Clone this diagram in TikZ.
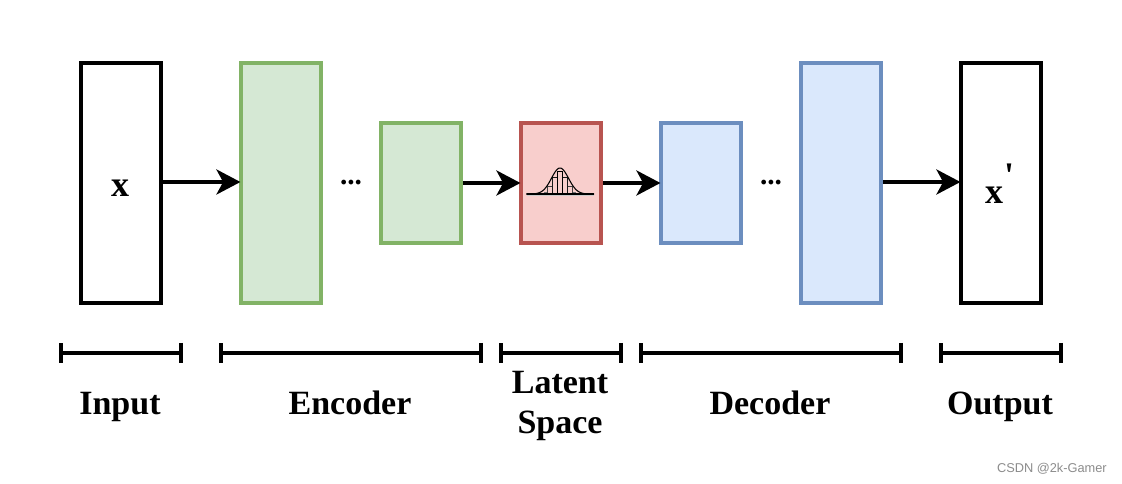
\documentclass[tikz,border=0pt]{standalone}
\usepackage{fontspec}
\setmainfont{Liberation Serif}
\newfontfamily\primefont{Liberation Serif}
\newfontfamily\wmfont{Liberation Sans}
\usetikzlibrary{arrows.meta}
\definecolor{gfill}{HTML}{D5E8D4}
\definecolor{gline}{HTML}{82B366}
\definecolor{rfill}{HTML}{F8CECC}
\definecolor{rline}{HTML}{B85450}
\definecolor{bfill}{HTML}{DAE8FC}
\definecolor{bline}{HTML}{6C8EBF}
\tikzset{
  x=0.75pt,y=-0.75pt,
  layer/.style={draw,line width=3pt,inner sep=0pt,outer sep=0pt,minimum width=60pt},
  tallbox/.style={layer,minimum height=180pt},
  shortbox/.style={layer,minimum height=90pt},
  plainbox/.style={fill=white,draw=black},
  encbox/.style={fill=gfill,draw=gline},
  latbox/.style={fill=rfill,draw=rline},
  decbox/.style={fill=bfill,draw=bline},
  flowline/.style={line width=3pt,-{Stealth[length=18pt,width=18.75pt,inset=5pt]},shorten >=0.4pt,shorten <=1.5pt},
  spanline/.style={line width=3pt,{Bar[width=15pt,line width=3pt]}-{Bar[width=15pt,line width=3pt]},shorten <=-1.5pt,shorten >=-1.5pt},
  caption/.style={font=\bfseries\fontsize{25.5pt}{30pt}\selectfont,align=center,inner sep=0pt},
  symbol/.style={font=\bfseries\fontsize{27pt}{30pt}\selectfont,inner sep=0pt},
  gapdots/.style={font=\bfseries\fontsize{22pt}{24pt}\selectfont,inner sep=0pt},
  histbar/.style={line width=0.6pt,black!85},
}
\begin{document}
\begin{tikzpicture}
\useasboundingbox (0,0) rectangle (1122,484);
\fill[white] (0,0) rectangle (1122,484);
\node[tallbox,plainbox] (input) at (121,183) {};
\node[tallbox,encbox] (enc1) at (281,183) {};
\node[shortbox,encbox] (enc2) at (421,183) {};
\node[shortbox,latbox] (latent) at (561,183) {};
\node[shortbox,decbox] (dec1) at (701,183) {};
\node[tallbox,decbox] (dec2) at (841,183) {};
\node[tallbox,plainbox] (output) at (1001,183) {};
\node[symbol,anchor=base] (xin) at (120,197) {x};
\node[symbol,anchor=base] (xout) at (994,204) {x};
\node[symbol,anchor=base] (xprime) at (1009,188) {\primefont\bfseries'};
\node[gapdots,anchor=base] (d1) at (351,185) {...};
\node[gapdots,anchor=base] (d2) at (771,185) {...};
% bell curve inside the latent node
\fill[gray!40] (527,195) rectangle (594,196.5);
\foreach \a/\b/\h/\c in {-15.7/-12.3/2/55,12.3/15.7/2/55,-12.3/-7.7/8/75,7.7/12.3/8/75,-7.7/-2.8/17/90,2.8/7.7/17/90,-2.8/2.8/23/100}{
  \draw[histbar,black!\c] (560+\a,194) rectangle (560+\b,194-\h);
}
\draw[line width=0.8pt,black,smooth,domain=-34:34,samples=70] plot (\x+560,{194-26*exp(-(\x*\x)/(2*8.5*8.5))});
\draw[line width=0.8pt,black] (527,194) -- (594,194);
% connectors
\coordinate (upper) at (0,182);
\coordinate (lower) at (0,183);
\draw[flowline] (input.east |- upper) -- (enc1.west |- upper);
\draw[flowline] (enc2.east |- lower) -- (latent.west |- lower);
\draw[flowline] (latent.east |- lower) -- (dec1.west |- lower);
\draw[flowline] (dec2.east |- upper) -- (output.west |- upper);
% spans
\coordinate (s1a) at (61,353); \coordinate (s1b) at (181,353);
\coordinate (s2a) at (221,353); \coordinate (s2b) at (481,353);
\coordinate (s3a) at (501,353); \coordinate (s3b) at (621,353);
\coordinate (s4a) at (641,353); \coordinate (s4b) at (901,353);
\coordinate (s5a) at (941,353); \coordinate (s5b) at (1061,353);
\draw[spanline] (s1a) -- (s1b);
\draw[spanline] (s2a) -- (s2b);
\draw[spanline] (s3a) -- (s3b);
\draw[spanline] (s4a) -- (s4b);
\draw[spanline] (s5a) -- (s5b);
\node[caption,anchor=base] (lin) at (120,415) {Input};
\node[caption,anchor=base] (len) at (350,415) {Encoder};
\node[caption] (lla) at (560,406) {Latent\\Space};
\node[caption,anchor=base] (lde) at (770,415) {Decoder};
\node[caption,anchor=base] (lou) at (1000,415) {Output};
\node[font=\wmfont\fontsize{9.6pt}{11pt}\selectfont,text=black!45,anchor=east,inner sep=0pt] (wm) at (1107,469) {CSDN @2k-Gamer};
\end{tikzpicture}
\end{document}
